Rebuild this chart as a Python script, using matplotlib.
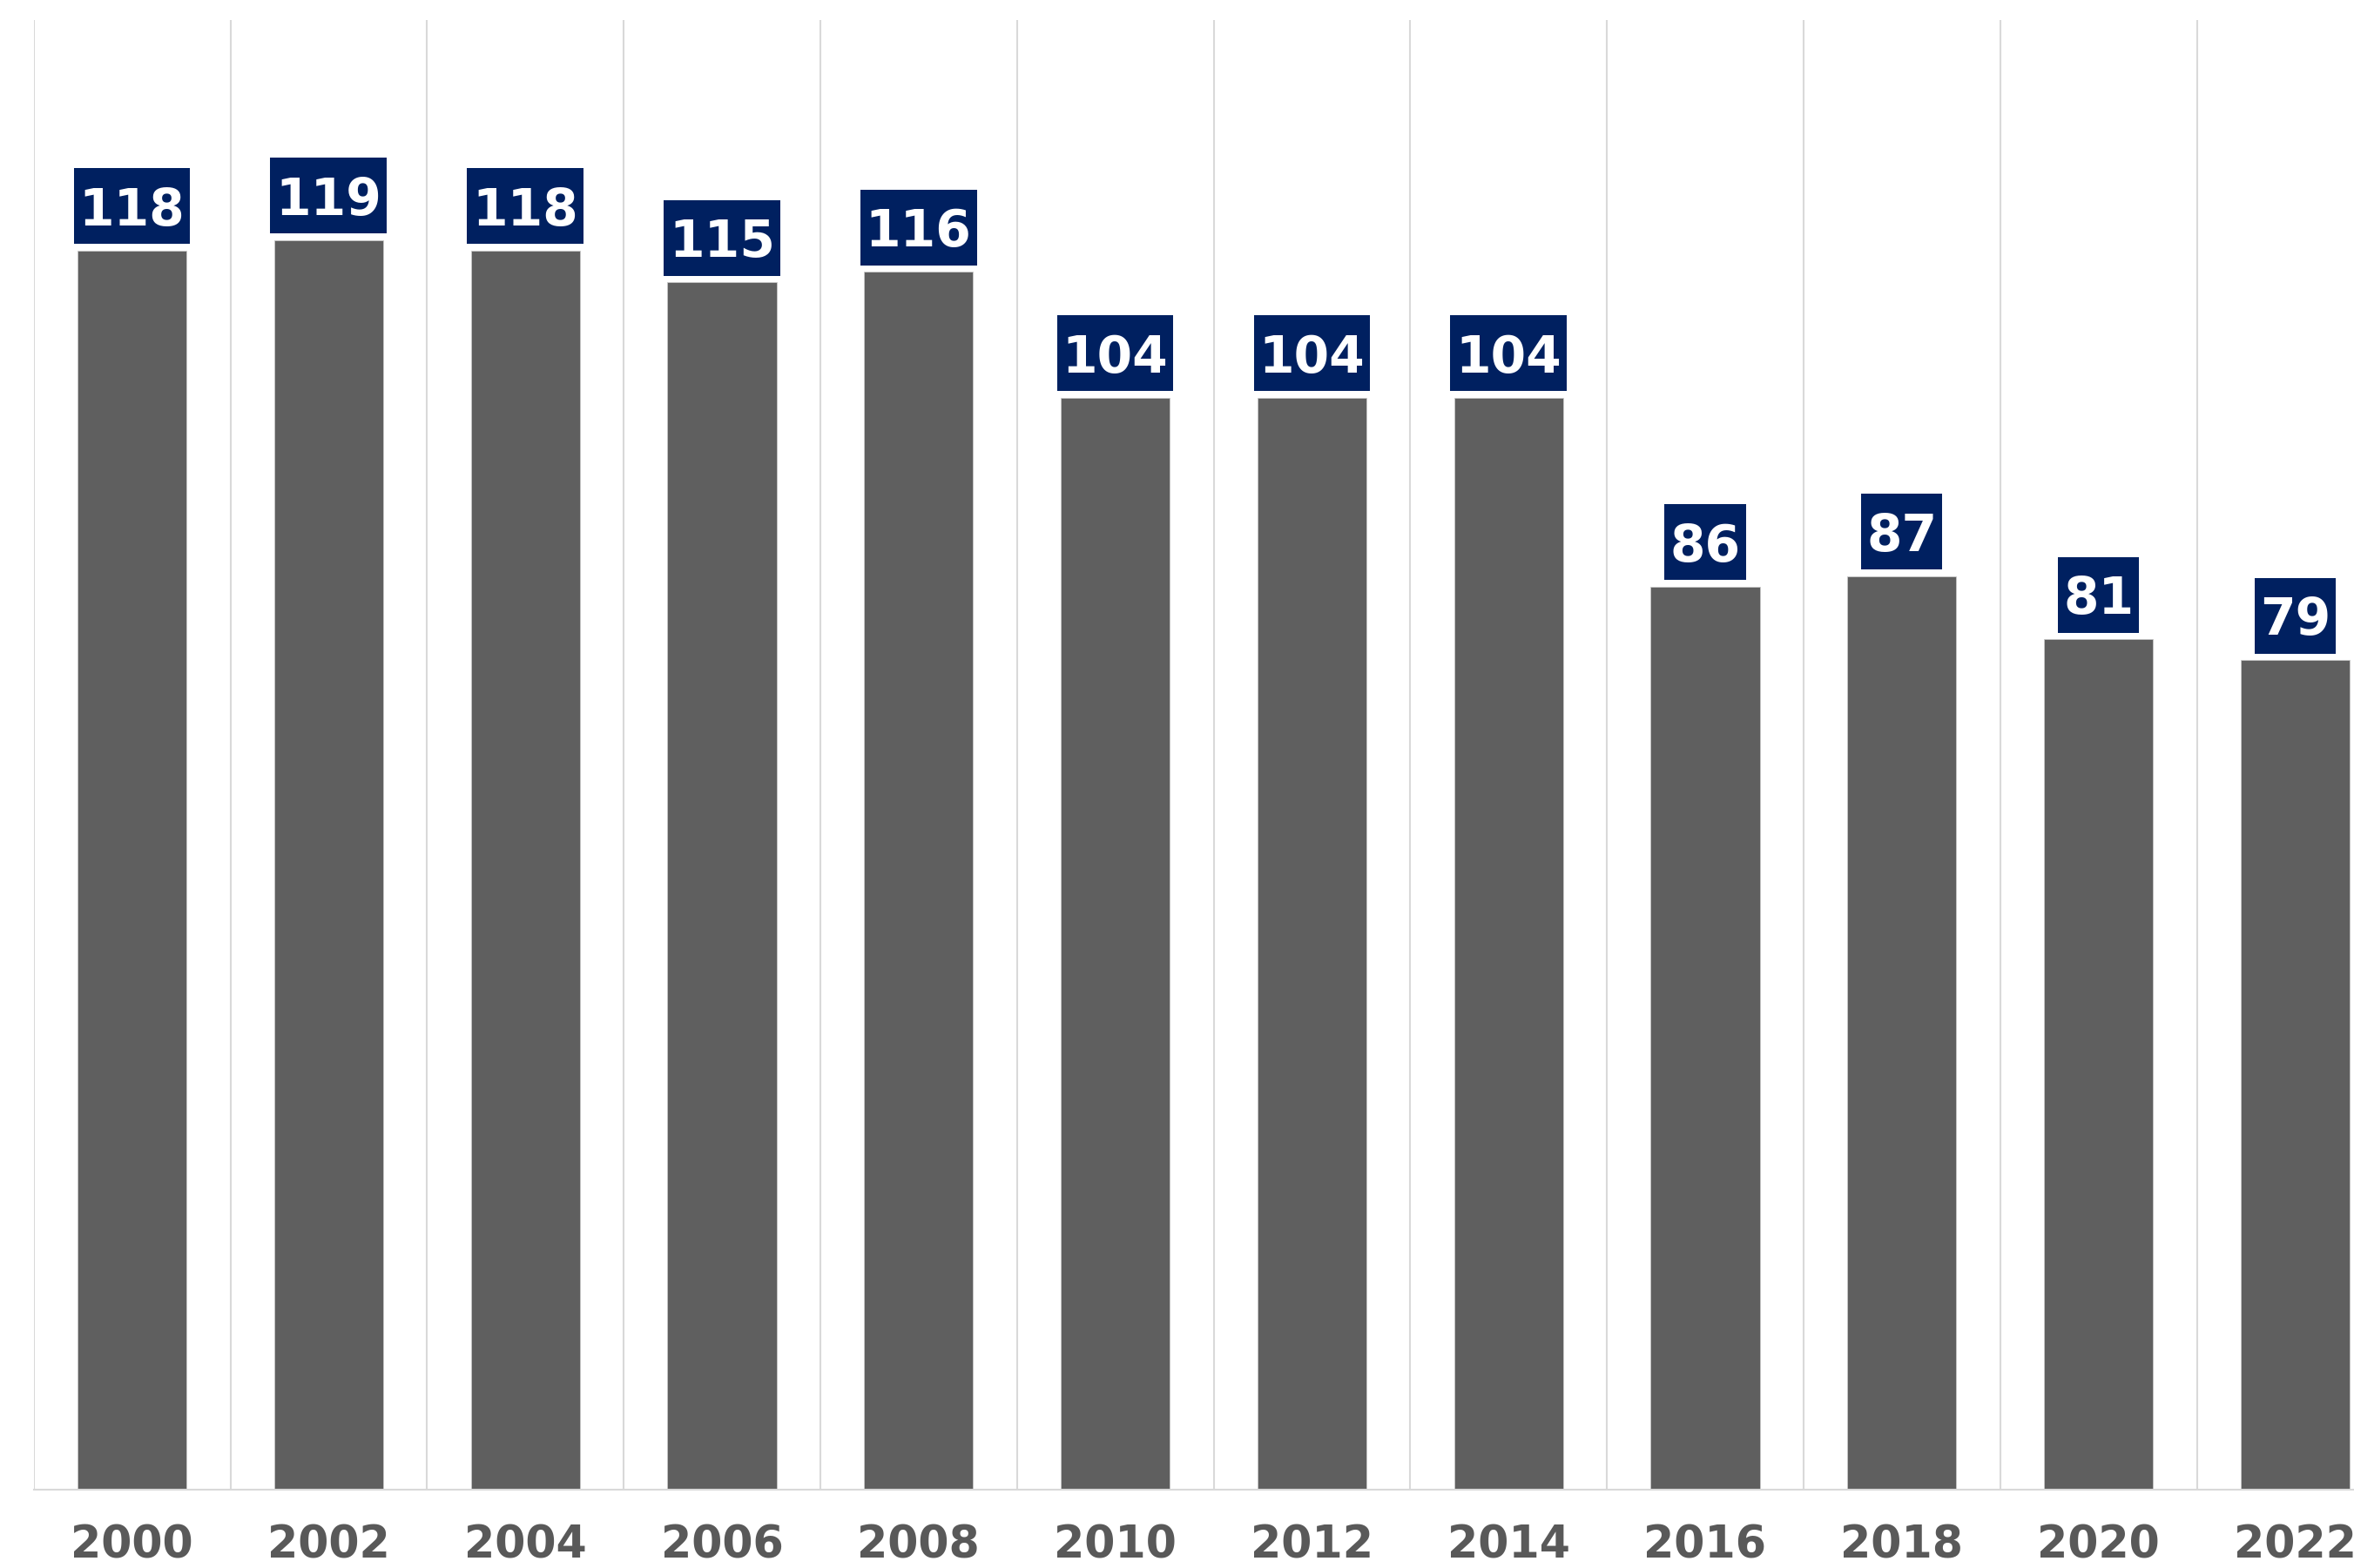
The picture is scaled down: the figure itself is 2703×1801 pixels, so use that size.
import matplotlib
matplotlib.use("Agg")
import matplotlib.pyplot as plt
from matplotlib.patches import Rectangle
from matplotlib.transforms import IdentityTransform

years = ["2000", "2002", "2004", "2006", "2008", "2010", "2012", "2014",
         "2016", "2018", "2020", "2022"]
values = [118, 119, 118, 115, 116, 104, 104, 104, 86, 87, 81, 79]

BAR = "#5f5f5f"
NAVY = "#002060"
GRID = "#d9d9d9"
TICK = "#595959"

W, H, DPI = 2703, 1801, 100
fig = plt.figure(figsize=(W / DPI, H / DPI), dpi=DPI)
fig.patch.set_facecolor("white")

left_px, base_px, top_px, cat_px = 38.7, 1710.7, 22.7, 225.8
ax = fig.add_axes([left_px / W, (H - base_px) / H,
                   cat_px * len(years) / W, (base_px - top_px) / H])

x = list(range(len(years)))
ax.bar(x, values, width=0.554, color=BAR, edgecolor="#c8c8c8",
       linewidth=0.6, zorder=2)
ax.set_xlim(-0.5, len(years) - 0.5)
ax.set_ylim(0, 140)

for b in [i - 0.5 for i in range(len(years) + 1)]:
    ax.axvline(b, color=GRID, lw=1.5, zorder=1)

for s in ["top", "right", "left"]:
    ax.spines[s].set_visible(False)
ax.spines["bottom"].set_color(GRID)
ax.spines["bottom"].set_linewidth(1.5)
ax.set_yticks([])
ax.set_xticks(x)
ax.set_xticklabels(years, fontsize=36.5, fontweight="bold", color=TICK,
                   family="DejaVu Sans")
ax.tick_params(axis="x", length=0, pad=29)

texts = []
for xi, v in zip(x, values):
    t = ax.annotate(str(v), xy=(xi, v), xytext=(0, 21), textcoords="offset points",
                    ha="center", va="baseline", fontsize=42, fontweight="bold",
                    color="white", family="DejaVu Sans", zorder=6,
                    annotation_clip=False)
    texts.append(t)

fig.canvas.draw()
r = fig.canvas.get_renderer()
for t, xi, v in zip(texts, x, values):
    bb = t.get_window_extent(r)
    px, py = ax.transData.transform((xi, v))
    padx = 6
    w = bb.width + 2 * padx
    rect = Rectangle((px - w / 2, py + 7.5), w, 87, transform=IdentityTransform(),
                     facecolor=NAVY, edgecolor="none", zorder=4, clip_on=False)
    ax.add_artist(rect)

fig.savefig("out.png", dpi=DPI, facecolor="white")
